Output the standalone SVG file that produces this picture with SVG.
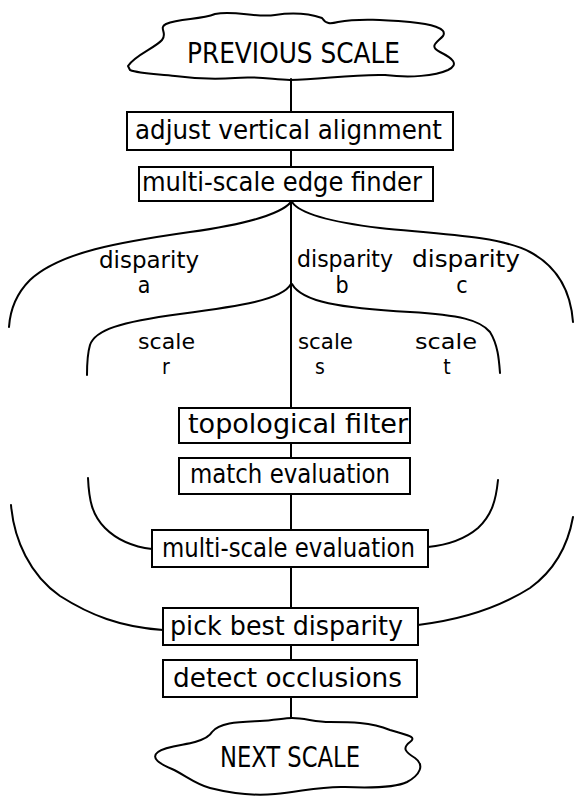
<svg xmlns="http://www.w3.org/2000/svg" width="574" height="797" viewBox="0 0 574 797">
<style>
.ln{fill:none;stroke:#000;stroke-width:2;stroke-linecap:round;stroke-linejoin:round}
.bx{fill:#fff;stroke:#000;stroke-width:2}
.t{font-family:"DejaVu Sans Condensed","DejaVu Sans",sans-serif;fill:#000}
.bt{font-size:26px}
.lt{font-size:23px}
.st{font-size:21px}
.ct{font-size:29px}
.m{text-anchor:middle}
</style>
<rect width="574" height="797" fill="#fff"/>
<g id="connectors">
<path class="ln" d="M291,79 V112 M291,150 V167 M291,201 V408 M291,443 V458 M291,494 V530 M291,567 V608 M291,645 V660 M291,697 V718"/>
<path class="ln" d="M291,202 C280,215 240,225 190,232 C120,242 60,252 30,280 C14,296 10,312 9,327"/>
<path class="ln" d="M292,202 C300,214 330,222 380,228 C440,234 500,236 530,252 C560,268 571,295 573,322"/>
<path class="ln" d="M291,284 C282,300 240,306 180,314 C120,322 95,330 90,345 C87,355 87,365 87,375"/>
<path class="ln" d="M292,284 C302,302 340,308 410,312 C460,315 480,320 490,332 C498,345 499,360 500,373"/>
<path class="ln" d="M88,478 C89,500 92,515 105,528 C118,541 135,547 152,549"/>
<path class="ln" d="M498,480 C496,500 492,515 478,528 C465,539 448,545 428,547"/>
<path class="ln" d="M11,505 C14,540 30,575 60,596 C90,615 120,627 163,630"/>
<path class="ln" d="M573,517 C568,545 555,570 530,588 C500,607 460,620 418,625"/>
</g>
<g id="previous-scale">
<path class="ln" d="M128,66 C135,55 155,48 162,40 C168,33 158,28 166,24 C180,18 200,20 215,14 C235,10 255,18 275,15 C295,12 310,14 322,18 C326,24 330,24 338,22 C360,18 385,20 410,22 C430,24 448,28 443,36 C438,42 428,46 440,52 C452,58 460,64 448,70 C435,76 410,78 385,75 C350,74 320,80 290,80 C270,79 255,76 235,78 C210,80 190,78 175,76 C160,74 140,74 130,70 Z"/>
<text class="t ct" x="187" y="63" textLength="213" lengthAdjust="spacingAndGlyphs">PREVIOUS SCALE</text>
</g>
<g id="adjust">
<rect class="bx" x="127" y="112" width="326" height="38"/>
<text class="t bt" x="135" y="139" textLength="307" lengthAdjust="spacingAndGlyphs">adjust vertical alignment</text>
</g>
<g id="edge-finder">
<rect class="bx" x="139" y="167" width="294" height="34"/>
<text class="t bt" x="142" y="191" textLength="280" lengthAdjust="spacingAndGlyphs">multi-scale edge finder</text>
</g>
<g id="disparity-labels">
<text class="t lt" x="99" y="268" textLength="100" lengthAdjust="spacingAndGlyphs">disparity</text>
<text class="t lt m" x="144" y="293">a</text>
<text class="t lt" x="297" y="267" textLength="96" lengthAdjust="spacingAndGlyphs">disparity</text>
<text class="t lt m" x="342" y="293">b</text>
<text class="t lt" x="412" y="267" textLength="108" lengthAdjust="spacingAndGlyphs">disparity</text>
<text class="t lt m" x="462" y="293">c</text>
</g>
<g id="scale-labels">
<text class="t st" x="138" y="349" textLength="57" lengthAdjust="spacingAndGlyphs">scale</text>
<text class="t st m" x="166" y="374">r</text>
<text class="t st" x="298" y="349" textLength="55" lengthAdjust="spacingAndGlyphs">scale</text>
<text class="t st m" x="320" y="374">s</text>
<text class="t st" x="415" y="349" textLength="62" lengthAdjust="spacingAndGlyphs">scale</text>
<text class="t st m" x="447" y="374">t</text>
</g>
<g id="topological-filter">
<rect class="bx" x="179" y="408" width="231" height="35"/>
<text class="t bt" x="188" y="433" textLength="220" lengthAdjust="spacingAndGlyphs">topological  filter</text>
</g>
<g id="match-evaluation">
<rect class="bx" x="179" y="458" width="231" height="36"/>
<text class="t bt" x="190" y="483" textLength="200" lengthAdjust="spacingAndGlyphs">match evaluation</text>
</g>
<g id="multi-scale-evaluation">
<rect class="bx" x="152" y="530" width="276" height="37"/>
<text class="t bt" x="162" y="557" textLength="253" lengthAdjust="spacingAndGlyphs">multi-scale evaluation</text>
</g>
<g id="pick-best-disparity">
<rect class="bx" x="163" y="608" width="255" height="37"/>
<text class="t bt" x="170" y="635" textLength="233" lengthAdjust="spacingAndGlyphs">pick best disparity</text>
</g>
<g id="detect-occlusions">
<rect class="bx" x="163" y="660" width="254" height="37"/>
<text class="t bt" x="173" y="687" textLength="229" lengthAdjust="spacingAndGlyphs">detect occlusions</text>
</g>
<g id="next-scale">
<path class="ln" d="M212,732 C220,722 240,722 260,721 C275,720 285,718 292,718 C305,718 315,722 330,722 C350,722 370,722 390,730 C405,735 418,736 410,742 C402,748 405,752 415,758 C425,765 420,775 407,782 C395,788 370,788 345,787 C320,786 300,792 275,794 C255,796 230,793 210,788 C195,784 185,775 172,769 C160,764 150,758 158,752 C165,746 185,745 195,742 C205,739 210,736 212,732 Z"/>
<text class="t ct" x="220" y="767" textLength="140" lengthAdjust="spacingAndGlyphs">NEXT SCALE</text>
</g>
</svg>
